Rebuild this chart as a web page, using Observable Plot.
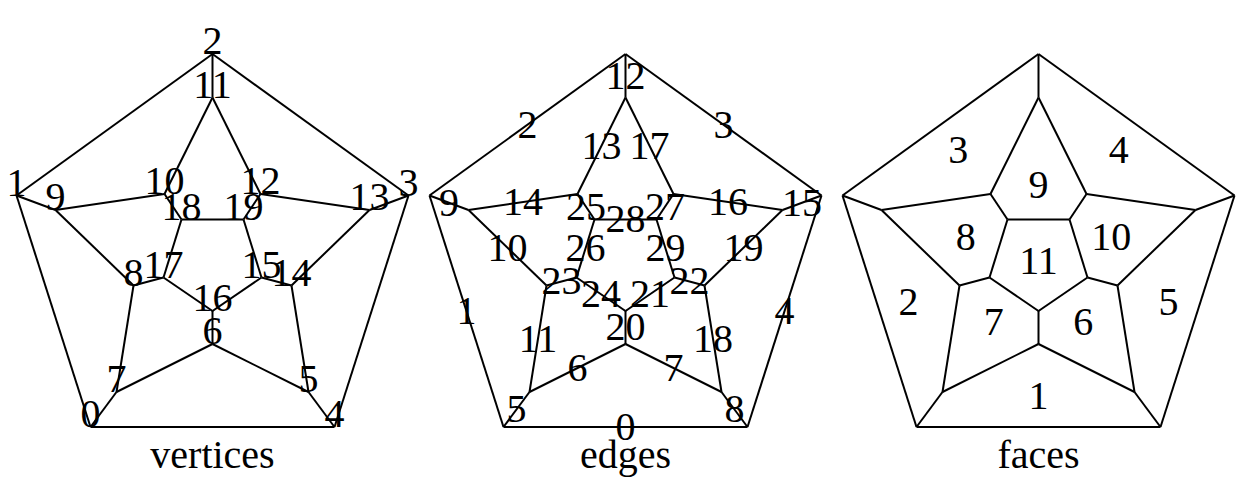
<!DOCTYPE html>
<html>
<head>
<meta charset="utf-8">
<script src="https://cdn.jsdelivr.net/npm/d3@7"></script>
<script src="https://cdn.jsdelivr.net/npm/@observablehq/plot@0.6"></script>
<style>
  html, body { margin: 0; padding: 0; background: #fff; overflow: hidden; }
  #chart svg { display: block; }
</style>
</head>
<body>
<div id="chart"></div>
<script>
// ---- Data ----
// Vertex positions of the dodecahedron Schlegel diagram (x relative to panel centre, y from top)
const vertexIds = [0,1,2,3,4,5,6,7,8,9,10,11,12,13,14,15,16,17,18,19];
const vertexX   = [-122,-196,0,196,122,96,0,-96,-79,-157,-48,0,48,157,79,49,0,-49,-31,31];
const vertexY   = [426.5,195,53.5,195,426.5,391.5,343.5,391.5,285,209.5,193.5,97,193.5,209.5,285,277,310.5,277,219,219];

// Edges (index = edge label): start vertex, end vertex
const edgeFrom = [0,0,1,2,3,0,7,6,4,1,9,8,2,11,10,3,13,12,14,13,6,16,15,8,17,10,18,12,18,19];
const edgeTo   = [4,1,2,3,4,7,6,5,5,9,8,7,11,10,9,13,12,11,5,14,16,15,14,17,16,18,17,19,19,15];

// Faces 1..11 (the outer face 0 is not labelled)
const faceIds = [1,2,3,4,5,6,7,8,9,10,11];
const faceVertices = [
  [0,4,5,6,7],
  [0,1,9,8,7],
  [1,2,11,10,9],
  [2,3,13,12,11],
  [3,4,5,14,13],
  [5,6,16,15,14],
  [6,7,8,17,16],
  [8,9,10,18,17],
  [10,11,12,19,18],
  [12,13,14,15,19],
  [15,16,17,18,19]
];

const panelNames = ["vertices", "edges", "faces"];

// ---- Layout ----
const W = 1252, H = 504;
const panelCenter = [212, 625, 1038];
const captionBaseline = 467;
const fontSize = 40;

// ---- Build tables ----
const vertices = vertexIds.map((id, i) => ({id, x: vertexX[i], y: vertexY[i]}));
const edges = edgeFrom.map((a, i) => ({
  id: i,
  x1: vertexX[a], y1: vertexY[a],
  x2: vertexX[edgeTo[i]], y2: vertexY[edgeTo[i]]
}));
const faces = faceIds.map((id, i) => ({
  id,
  x: d3.mean(faceVertices[i], v => vertexX[v]),
  y: d3.mean(faceVertices[i], v => vertexY[v])
}));

const edgeLines = panelCenter.flatMap((cx, p) => edges.map(e => ({
  p, x1: e.x1 + cx, y1: e.y1, x2: e.x2 + cx, y2: e.y2
})));
const vertexLabels = vertices.map(v => ({text: String(v.id), x: v.x + panelCenter[0], y: v.y}));
const edgeLabels = edges.map(e => ({text: String(e.id), x: (e.x1 + e.x2) / 2 + panelCenter[1], y: (e.y1 + e.y2) / 2}));
const faceLabels = faces.map(f => ({text: String(f.id), x: f.x + panelCenter[2], y: f.y}));
const captions = panelNames.map((name, i) => ({text: name, x: panelCenter[i], y: captionBaseline}));

const chart = Plot.plot({
  width: W,
  height: H,
  margin: 0,
  x: {domain: [0, W], range: [0, W], axis: null},
  y: {domain: [0, H], range: [0, H], axis: null},
  style: {fontFamily: "'Liberation Serif', 'DejaVu Serif', serif", background: "#fff", color: "#000"},
  marks: [
    Plot.link(edgeLines, {x1: "x1", y1: "y1", x2: "x2", y2: "y2", stroke: "#000", strokeWidth: 2}),
    Plot.text(vertexLabels, {x: "x", y: "y", text: "text", lineAnchor: "bottom", fontSize, fill: "#000"}),
    Plot.text(edgeLabels, {x: "x", y: "y", text: "text", lineAnchor: "middle", fontSize, fill: "#000"}),
    Plot.text(faceLabels, {x: "x", y: "y", text: "text", lineAnchor: "middle", fontSize, fill: "#000"}),
    Plot.text(captions, {x: "x", y: "y", text: "text", lineAnchor: "bottom", fontSize, fill: "#000"})
  ]
});
document.getElementById("chart").appendChild(chart);
</script>
</body>
</html>
